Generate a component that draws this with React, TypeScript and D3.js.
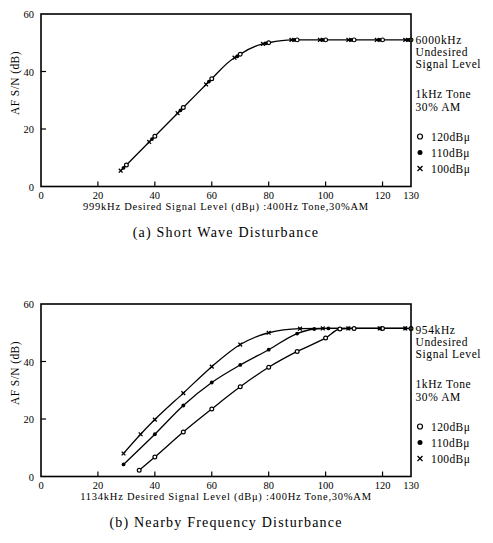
import React from 'react';
import * as d3 from 'd3';

type P = [number, number];

const xTicks = [0, 20, 40, 60, 80, 100, 120, 130];
const yTicks = [0, 20, 40, 60];
const legendLabels = ['120dBμ', '110dBμ', '100dBμ'];

// (a) Short Wave Disturbance
const a120: P[] = [[30, 7.5], [40, 17.5], [50, 27.5], [60, 37.5], [70, 46], [80, 50], [90, 51], [100, 51], [110, 51], [120, 51], [130, 51]];
const a110: P[] = [[29, 6.5], [39, 16.5], [49, 26.5], [59, 36.5], [69, 45.3], [79, 49.8], [89, 51], [99, 51], [109, 51], [119, 51], [129, 51]];
const a100: P[] = [[28, 5.5], [38, 15.5], [48, 25.5], [58, 35.5], [68, 44.8], [78, 49.6], [88, 51], [98, 51], [108, 51], [118, 51], [128, 51]];

// (b) Nearby Frequency Disturbance
const b120: P[] = [[34.5, 2.2], [40, 6.8], [50, 15.5], [60, 23.5], [70, 31.2], [80, 38], [90, 43.5], [100, 48.2], [105, 51.3], [110, 51.5], [120, 51.5], [130, 51.5]];
const b110: P[] = [[29, 4.2], [40, 14.7], [50, 24.7], [60, 32.7], [70, 38.8], [80, 44.1], [90, 49.7], [96, 51.3], [101, 51.5], [108, 51.5], [119, 51.5], [128, 51.5]];
const b100: P[] = [[29, 8], [35, 14.7], [40, 19.8], [50, 29], [60, 38.2], [70, 45.9], [80, 50], [91, 51.4], [99, 51.5], [108, 51.5], [119, 51.5], [128, 51.5]];

const FONT = '"Liberation Serif", "Times New Roman", serif';

function Marker({ kind, cx, cy, r = 1.9 }: { kind: number; cx: number; cy: number; r?: number }) {
  if (kind === 0) return <circle cx={cx} cy={cy} r={r} fill="#fff" stroke="#000" strokeWidth={1.2} />;
  if (kind === 1) return <circle cx={cx} cy={cy} r={r} fill="#000" />;
  const s = r;
  return (
    <path d={`M${cx - s},${cy - s}L${cx + s},${cy + s}M${cx - s},${cy + s}L${cx + s},${cy - s}`} stroke="#000" strokeWidth={1.3} />
  );
}

function Panel({ off, series, single, info, axisTitle, caption }: {
  off: number; series: P[][]; single: boolean; info: string[]; axisTitle: string; caption: string;
}) {
  const x = d3.scaleLinear().domain([0, 130]).range([41, 411]);
  const y = d3.scaleLinear().domain([0, 60]).range([186.5 + off, 14 + off]);
  const line = d3.line<P>().x(d => x(d[0])).y(d => y(d[1])).curve(d3.curveMonotoneX);
  const lines: P[][] = single
    ? [([] as P[]).concat(...series).sort((p, q) => p[0] - q[0])]
    : series;
  return (
    <g fontFamily={FONT} fill="#000">
      {lines.map((l, i) => (
        <path key={i} d={line(l) || ''} fill="none" stroke="#000" strokeWidth={1.3} />
      ))}
      {series.map((s, k) => s.map((p, i) => <Marker key={`${k}-${i}`} kind={k} cx={x(p[0])} cy={y(p[1])} />))}
      <rect x={x(0)} y={y(60)} width={x(130) - x(0)} height={y(0) - y(60)} fill="none" stroke="#000" strokeWidth={1.6} />
      {xTicks.filter(t => t > 0 && t < 130).map(t => (
        <line key={t} x1={x(t)} x2={x(t)} y1={y(0)} y2={y(0) - 5} stroke="#000" strokeWidth={1.2} />
      ))}
      {yTicks.filter(t => t > 0 && t < 60).map(t => (
        <line key={t} x1={x(0)} x2={x(0) + 5} y1={y(t)} y2={y(t)} stroke="#000" strokeWidth={1.2} />
      ))}
      {xTicks.map(t => (
        <text key={t} x={x(t)} y={y(0) + 12} fontSize={10.5} textAnchor="middle">{t}</text>
      ))}
      {yTicks.map(t => (
        <text key={t} x={34} y={y(t) + 4} fontSize={10.5} textAnchor="end">{t}</text>
      ))}
      <text transform={`translate(19,${83 + off}) rotate(-90)`} fontSize={11.5} letterSpacing={0.4} textAnchor="middle">AF S/N (dB)</text>
      <text x={226} y={209.5 + off} fontSize={10.5} letterSpacing={0.75} textAnchor="middle">{axisTitle}</text>
      <text x={226} y={237 + off} fontSize={14} letterSpacing={1.2} textAnchor="middle">{caption}</text>
      {info.map((t, i) => (
        <text key={t} x={415.5} y={off + [43.5, 55.5, 68, 98, 111][i]} fontSize={11.5} letterSpacing={0.6}>{t}</text>
      ))}
      {legendLabels.map((t, i) => (
        <g key={t}>
          <Marker kind={i} cx={420} cy={off + 136.5 + i * 16} r={2.5} />
          <text x={431} y={off + 140.5 + i * 16} fontSize={11.5} letterSpacing={0.4}>{t}</text>
        </g>
      ))}
    </g>
  );
}

export default function App() {
  return (
    <svg width={493} height={543} style={{ position: 'absolute', left: 0, top: 0, background: '#fff' }}>
      <rect width={493} height={543} fill="#fff" />
      <Panel
        off={0}
        series={[a120, a110, a100]}
        single={true}
        info={['6000kHz', 'Undesired', 'Signal Level', '1kHz Tone', '30% AM']}
        axisTitle="999kHz Desired Signal Level (dBμ) :400Hz Tone,30%AM"
        caption="(a) Short Wave Disturbance"
      />
      <Panel
        off={290}
        series={[b120, b110, b100]}
        single={false}
        info={['954kHz', 'Undesired', 'Signal Level', '1kHz Tone', '30% AM']}
        axisTitle="1134kHz Desired Signal Level (dBμ) :400Hz Tone,30%AM"
        caption="(b) Nearby Frequency Disturbance"
      />
    </svg>
  );
}
